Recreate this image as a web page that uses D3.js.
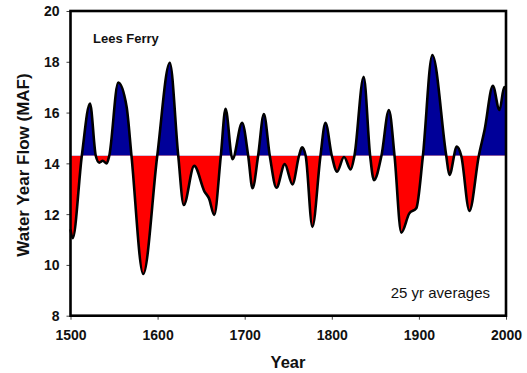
<!DOCTYPE html>
<html><head><meta charset="utf-8">
<script src="https://cdn.jsdelivr.net/npm/d3@7"></script>
<style>body{margin:0;background:#fff}svg{display:block}</style>
</head><body>
<svg id="c" width="527" height="373"></svg>
<script>
const years = [1500,1502.5,1513,1522.4,1529,1533,1537,1541.5,1544.5,1554.8,1564.4,1570,1583.5,1599.6,1614,1623.7,1630,1642,1654,1659,1665,1672.6,1678,1686,1697,1704,1709,1715.4,1722,1728.8,1736.5,1746,1754.8,1762.4,1765.8,1770,1777.7,1787,1792.7,1800,1806,1814,1821.7,1826,1836.6,1844,1848.4,1857,1865.6,1872,1879.8,1889,1897,1904.6,1915.4,1931.4,1935,1943.6,1948.6,1958,1968.8,1975.4,1984.9,1992.5,1998,2000];
const flows = [11.4,11.05,14.3,16.36,14.3,14.03,14.1,14.0,14.3,17.18,16.23,14.3,9.64,14.3,17.96,14.3,12.36,13.9,12.88,12.62,11.97,14.3,16.15,14.16,15.6,14.3,13.02,14.3,15.94,14.3,13.04,13.97,13.17,14.3,14.63,14.3,11.5,14.3,15.6,14.3,13.67,14.25,13.76,14.3,17.41,14.3,13.34,14.3,16.1,14.3,11.27,12.03,12.23,14.3,18.27,14.3,13.54,14.66,14.3,12.13,14.3,15.31,17.05,16.1,17.0,16.95];
const meanFlow = 14.3;
const xTicks = [1500,1600,1700,1800,1900,2000];
const yTicks = [8,10,12,14,16,18,20];

const svg = d3.select("#c");
const L=70.5, R=506, T=11, B=315.7;
const x = d3.scaleLinear().domain([1500,2000]).range([L,R]);
const y = d3.scaleLinear().domain([8,20]).range([B,T]);
const data = years.map((yr,i)=>({yr, v:flows[i]}));
const by = y(meanFlow);

const defs = svg.append("defs");
defs.append("clipPath").attr("id","above").append("rect").attr("x",L).attr("y",T).attr("width",R-L).attr("height",by-T);
defs.append("clipPath").attr("id","below").append("rect").attr("x",L).attr("y",by).attr("width",R-L).attr("height",B-by);

const area = d3.area().x(d=>x(d.yr)).y0(by).y1(d=>y(d.v)).curve(d3.curveMonotoneX);
const line = d3.line().x(d=>x(d.yr)).y(d=>y(d.v)).curve(d3.curveMonotoneX);

svg.append("path").datum(data).attr("d",area).attr("fill","#000099").attr("clip-path","url(#above)");
svg.append("path").datum(data).attr("d",area).attr("fill","#ff0000").attr("clip-path","url(#below)");
svg.append("path").datum(data).attr("d",line).attr("fill","none").attr("stroke","#000").attr("stroke-width",2.6);

// axes
const xa = svg.append("g").attr("transform",`translate(0,${B})`)
  .call(d3.axisBottom(x).tickValues(xTicks).tickFormat(d3.format("d")).tickSize(4).tickPadding(10));
const ya = svg.append("g").attr("transform",`translate(${L},0)`)
  .call(d3.axisLeft(y).tickValues(yTicks).tickSize(4).tickPadding(7));
[xa,ya].forEach(g=>{
  g.select(".domain").remove();
  g.selectAll("line").attr("stroke","#444").attr("stroke-width",1);
  g.selectAll("text").attr("font-family","'Liberation Sans',Arial,sans-serif").attr("font-weight","bold").attr("font-size",14).attr("fill","#111");
});
ya.selectAll("text").attr("dy","0.35em");

// frame
svg.append("rect").attr("x",L).attr("y",T).attr("width",R-L).attr("height",B-T)
  .attr("fill","none").attr("stroke","#000").attr("stroke-width",2.6);

const ff = "'Liberation Sans',Arial,sans-serif";
svg.append("text").attr("x",93).attr("y",43).attr("font-family",ff).attr("font-weight","bold").attr("font-size",13).attr("fill","#111").text("Lees Ferry");
svg.append("text").attr("x",490).attr("y",298).attr("text-anchor","end").attr("font-family",ff).attr("font-size",15).attr("fill","#111").text("25 yr averages");
svg.append("text").attr("x",288).attr("y",368).attr("text-anchor","middle").attr("font-family",ff).attr("font-weight","bold").attr("font-size",16.5).attr("fill","#111").text("Year");
svg.append("text").attr("transform","translate(29,165) rotate(-90)").attr("text-anchor","middle").attr("font-family",ff).attr("font-weight","bold").attr("font-size",17).attr("fill","#111").text("Water Year Flow (MAF)");
</script>
</body></html>
